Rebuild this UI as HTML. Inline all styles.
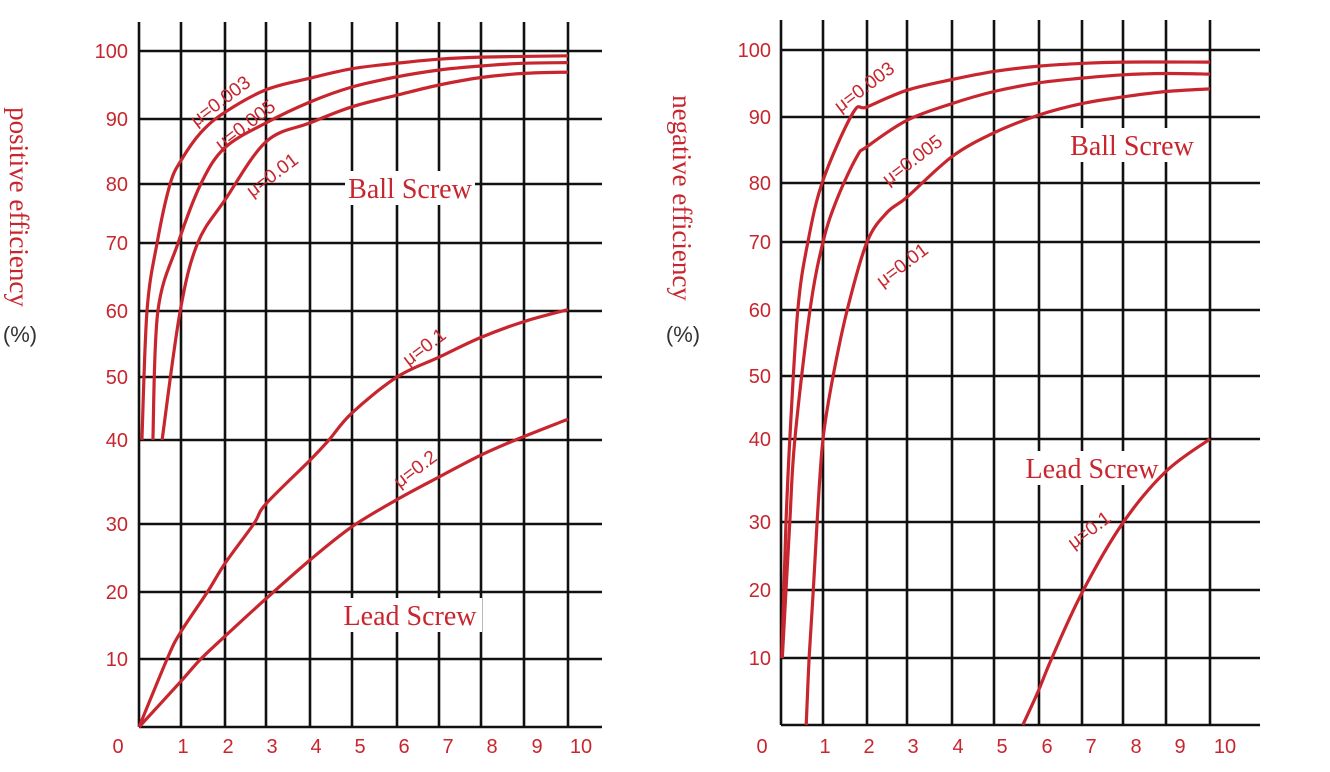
<!DOCTYPE html>
<html><head><meta charset="utf-8"><style>
html,body{margin:0;padding:0;background:#fff;}
svg{display:block;}
.tick{font-family:"Liberation Sans",sans-serif;font-size:20px;fill:#c8262e;}
.ser{font-family:"Liberation Serif",serif;fill:#c8262e;}
.mu{font-family:"Liberation Sans",sans-serif;font-size:19px;fill:#c8262e;}
</style></head><body>
<svg id="chart" width="1330" height="772" viewBox="0 0 1330 772" xmlns="http://www.w3.org/2000/svg"></svg>
<script>
const yTicks=[0,10,20,30,40,50,60,70,80,90,100];
const xTicks=[0,1,2,3,4,5,6,7,8,9,10];
const xGridUnits=[0,1,2,3,4,5,6,7,8,9,10];
// Left chart series [x, efficiency]
const L003X=[0.07,0.19,0.43,0.74,1.0,1.45,2,3,4,5,6,7,8,10];
const L003Y=[40,60,70,80,83.6,87.9,91,94.3,96,97.4,98.2,98.8,99.1,99.3];
const L005X=[0.33,0.45,0.93,1.45,2,3,4,5,6,7,8,9,10];
const L005Y=[40,60,70,80,85.6,89.4,92.5,94.7,96.2,97.2,97.8,98.2,98.3];
const L01X=[0.55,0.98,1.38,2,3,4,5,6,7,8,9,10];
const L01Y=[40,60,70,77.3,86.5,89.4,91.8,93.5,95,96.1,96.7,96.9];
const L1X=[0,0.67,0.98,1.6,2,2.7,3,4,4.45,5,6,7,8,9,10];
const L1Y=[0,10,13.9,20,24.2,30,32.4,37.6,40,44.3,50,53,56,58.4,60.2];
const L2X=[0,0.98,1.45,2,3,4,5,6,7,8,8.8,10];
const L2Y=[0,6.6,10,13.4,19,24.7,29.6,32.9,35.6,38.2,40,43.3];
// Right chart series
const R003X=[0.02,0.07,0.12,0.21,0.4,0.64,1.0,1.68,2,3,4,5,6,7,8,10];
const R003Y=[10,20,30,40,60,70,80.4,90.6,91.5,94,95.6,96.8,97.6,98,98.2,98.2];
const R005X=[0.03,0.12,0.21,0.33,0.69,1.0,1.32,1.77,2,3,4,5,6,7,8,9,10];
const R005Y=[10,20,30,40,60,70,77.3,84,85.5,89.5,92,93.8,95.1,95.8,96.3,96.5,96.4];
const R01X=[0.6,0.67,0.77,0.86,1.0,1.23,1.55,2,2.5,3,4,5,6,7,8,9,10];
const R01Y=[0,10,20,30,40,50,60,70,75,77.6,84,87.6,90.3,92,93,93.8,94.2];
const R1X=[5.64,5.98,6.3,7,8,9,10];
const R1Y=[0,5,10,19.6,29.9,36.1,40];

const NS="http://www.w3.org/2000/svg";
const svg=document.getElementById('chart');
function mk(tag,attrs,parent){const e=document.createElementNS(NS,tag);for(const k in attrs)e.setAttribute(k,attrs[k]);(parent||svg).appendChild(e);return e;}
function interp(v,dom,rng){if(v<=dom[0])return rng[0]+(v-dom[0])*(rng[1]-rng[0])/(dom[1]-dom[0]);for(let i=1;i<dom.length;i++){if(v<=dom[i])return rng[i-1]+(v-dom[i-1])*(rng[i]-rng[i-1])/(dom[i]-dom[i-1]);}const n=dom.length;return rng[n-1]+(v-dom[n-1])*(rng[n-1]-rng[n-2])/(dom[n-1]-dom[n-2]);}
function smooth(pts){let d='M'+pts[0][0].toFixed(1)+','+pts[0][1].toFixed(1);
  for(let i=0;i<pts.length-1;i++){const p0=pts[i-1]||pts[i],p1=pts[i],p2=pts[i+1],p3=pts[i+2]||p2;
    const c1=[p1[0]+(p2[0]-p0[0])/6,p1[1]+(p2[1]-p0[1])/6],c2=[p2[0]-(p3[0]-p1[0])/6,p2[1]-(p3[1]-p1[1])/6];
    d+='C'+c1[0].toFixed(1)+','+c1[1].toFixed(1)+' '+c2[0].toFixed(1)+','+c2[1].toFixed(1)+' '+p2[0].toFixed(1)+','+p2[1].toFixed(1);}
  return d;}

function drawPanel(cfg){
  const g=mk('g',{});
  
  
  const xs=v=>interp(v,xGridUnits,cfg.gx);
  const ys=v=>interp(v,yTicks,cfg.gy);
  cfg.gx.forEach((x,i)=>{const l=mk('line',{x1:x,x2:x,y1:cfg.top,y2:cfg.gy[0],stroke:'#111','stroke-width':2.6},g);
    
    });
  cfg.gy.forEach((y,i)=>{const l=mk('line',{x1:cfg.gx[0],x2:cfg.right,y1:y,y2:y,stroke:'#111','stroke-width':2.6},g);
    
    });
  yTicks.forEach((t,i)=>{if(t===0)return;const tx=mk('text',{x:cfg.ylabX,y:cfg.gy[i]+7,'text-anchor':'end',class:'tick'},g);tx.textContent=t;
    
    });
  xTicks.forEach((t,i)=>{const tx=mk('text',{x:cfg.xlab[i],y:753,'text-anchor':'middle',class:'tick'},g);tx.textContent=t;
    
    });
  cfg.regions.forEach(r=>{mk('rect',{x:r.x-r.w/2,y:r.y-22,width:r.w,height:34,fill:'#fff'},g);
    const tx=mk('text',{x:r.x,y:r.y+5,'text-anchor':'middle',class:'ser','font-size':28},g);tx.textContent=r.t;
    
    });
  cfg.series.forEach(s=>{const pts=s.x.map((v,i)=>[xs(v),ys(s.y[i])]);
    const p=mk('path',{d:smooth(pts),fill:'none',stroke:'#c8262e','stroke-width':3.2,'stroke-linejoin':'round'},g);
    
    });
  cfg.mus.forEach(m=>{const tx=mk('text',{x:m.x,y:m.y,'text-anchor':'middle',class:'mu',transform:'rotate(-37 '+m.x+' '+m.y+')'},g);tx.textContent=m.t;
    
    });
  const at=mk('text',{x:cfg.titleX,y:cfg.titleY,'text-anchor':'middle',class:'ser','font-size':27,transform:'rotate(90 '+cfg.titleX+' '+cfg.titleY+')'},g);
  at.textContent=cfg.title;
  
  
  const pc=mk('text',{x:cfg.titleX+10,y:342,'text-anchor':'middle','font-family':'Liberation Sans, sans-serif','font-size':22,fill:'#333'},g);
  pc.textContent='(%)';
  
  
}

drawPanel({name:'positive-efficiency-chart',
  gx:[139,181,225,266,310,352,397,439,481,524,568],
  gy:[727,659,592,524,440,377,311,243,184,119,51],
  top:22,right:602,ylabX:128,
  xlab:[118,183,228,272,316,360,404,448,492,537,581],
  regions:[{x:410,y:193,w:130,t:'Ball Screw'},{x:410,y:620,w:144,t:'Lead Screw'}],
  series:[{n:'mu-0003',x:L003X,y:L003Y},{n:'mu-0005',x:L005X,y:L005Y},{n:'mu-001',x:L01X,y:L01Y},{n:'mu-01',x:L1X,y:L1Y},{n:'mu-02',x:L2X,y:L2Y}],
  mus:[{x:224,y:106,t:'μ=0.003'},{x:249,y:130,t:'μ=0.005'},{x:276,y:180,t:'μ=0.01'},{x:428,y:352,t:'μ=0.1'},{x:419,y:474,t:'μ=0.2'}],
  title:'positive efficiency',titleX:10,titleY:207});

drawPanel({name:'negative-efficiency-chart',
  gx:[781,823,867,907,952,994,1039,1082,1123,1166,1210],
  gy:[725,658,590,522,439,376,310,242,183,117,50],
  top:20,right:1260,ylabX:771,
  xlab:[762,825,869,913,958,1002,1047,1091,1136,1180,1225],
  regions:[{x:1132,y:150,w:130,t:'Ball Screw'},{x:1092,y:473,w:144,t:'Lead Screw'}],
  series:[{n:'mu-0003',x:R003X,y:R003Y},{n:'mu-0005',x:R005X,y:R005Y},{n:'mu-001',x:R01X,y:R01Y},{n:'lead-mu-01',x:R1X,y:R1Y}],
  mus:[{x:868,y:92,t:'μ=0.003'},{x:916,y:165,t:'μ=0.005'},{x:906,y:270,t:'μ=0.01'},{x:1093,y:535,t:'μ=0.1'}],
  title:'negative efficiency',titleX:673,titleY:198});
</script>
</body></html>
